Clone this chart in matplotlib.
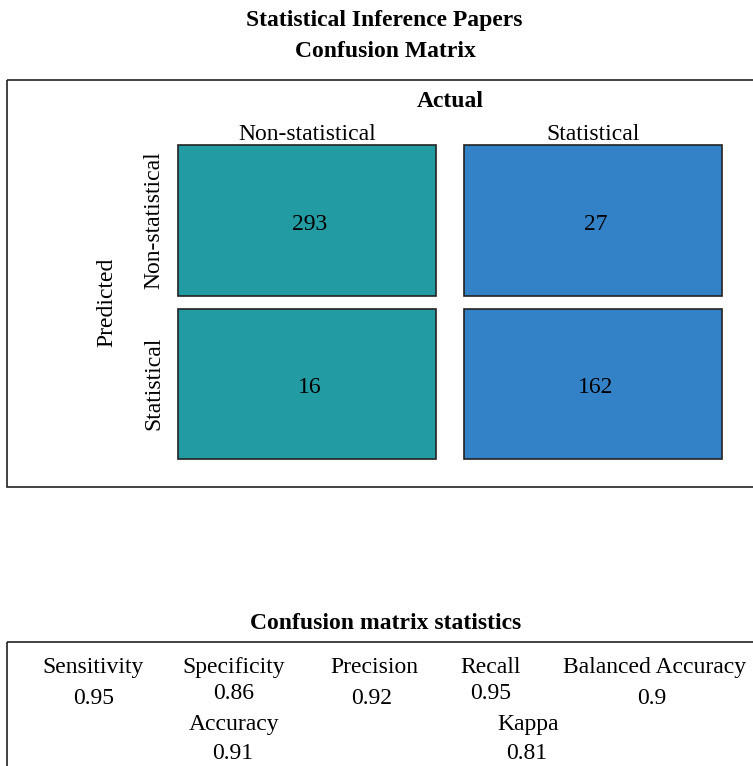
import matplotlib
matplotlib.use("Agg")
import matplotlib.pyplot as plt
from matplotlib.patches import Rectangle
import numpy as np

plt.rcParams["font.family"] = ["Liberation Serif", "DejaVu Serif"]

# data
classes = ["Non-statistical", "Statistical"]
counts = np.array([[293, 27],
                   [16, 162]])  # rows = predicted, cols = actual
stat_names = ["Sensitivity", "Specificity", "Precision", "Recall", "Balanced Accuracy"]
stat_values = [0.95, 0.86, 0.92, 0.95, 0.9]
extra_names = ["Accuracy", "Kappa"]
extra_values = [0.91, 0.81]

TEAL = "#229ba3"
BLUE = "#3382c7"
W, H = 753, 766
FS = 17

fig = plt.figure(figsize=(W / 100, H / 100), dpi=100)

# background axes in pixel coordinates for frames and text
bg = fig.add_axes([0, 0, 1, 1])
bg.set_xlim(0, W)
bg.set_ylim(H, 0)
bg.axis("off")

bg.add_patch(Rectangle((7.5, 79.5), 760, 407.5, fill=False, lw=1.2, ec="#222222"))
bg.add_patch(Rectangle((7.5, 642), 760, 160, fill=False, lw=1.2, ec="#222222"))

bg.text(384, 26, "Statistical Inference Papers", ha="center", va="baseline",
        fontsize=FS, fontweight="bold")
bg.text(385, 57, "Confusion Matrix", ha="center", va="baseline",
        fontsize=FS, fontweight="bold")
bg.text(450, 107, "Actual", ha="center", va="baseline", fontsize=FS, fontweight="bold")
bg.text(107, 302, "Predicted", ha="center", va="center", fontsize=FS, rotation=90)

# confusion matrix cells
ax = fig.add_axes([164 / W, 1 - 465.5 / H, (736 - 164) / W, (465.5 - 138.5) / H])
ax.set_xlim(0, 2)
ax.set_ylim(2, 0)
ax.axis("off")
gx, gy = 14 / 286, 6.5 / 163.5
for i in range(2):
    for j in range(2):
        color = TEAL if j == 0 else BLUE
        ax.add_patch(Rectangle((j + gx, i + gy), 1 - 2 * gx, 1 - 2 * gy,
                               fc=color, ec="#222222", lw=1.2))
        ax.text(j + 0.51, i + 0.51, str(counts[i, j]), ha="center",
                va="center_baseline", fontsize=FS)
for j, name in enumerate(classes):
    ax.text(j + 0.5, 0.01, name, ha="center", va="baseline", fontsize=FS)
for i, name in enumerate(classes):
    ax.text(-0.0, i + 0.5, name, ha="right", va="center", fontsize=FS,
            rotation=90)

# statistics panel
bg.text(386, 629, "Confusion matrix statistics", ha="center", va="baseline",
        fontsize=FS, fontweight="bold")
name_x = [93, 233.5, 374, 491, 654.5]
value_x = [94, 233.5, 372, 491, 652]
value_y = [704, 699, 704, 699, 704]
for name, val, nx, vx, vy in zip(stat_names, stat_values, name_x, value_x, value_y):
    bg.text(nx, 673, name, ha="center", va="baseline", fontsize=FS)
    bg.text(vx, vy, f"{val:g}", ha="center", va="baseline", fontsize=FS)
for name, val, x in zip(extra_names, extra_values, [234, 528]):
    bg.text(x, 730, name, ha="center", va="baseline", fontsize=FS)
    bg.text(x - 1, 759, f"{val:g}", ha="center", va="baseline", fontsize=FS)

fig.savefig("out.png", dpi=100)
